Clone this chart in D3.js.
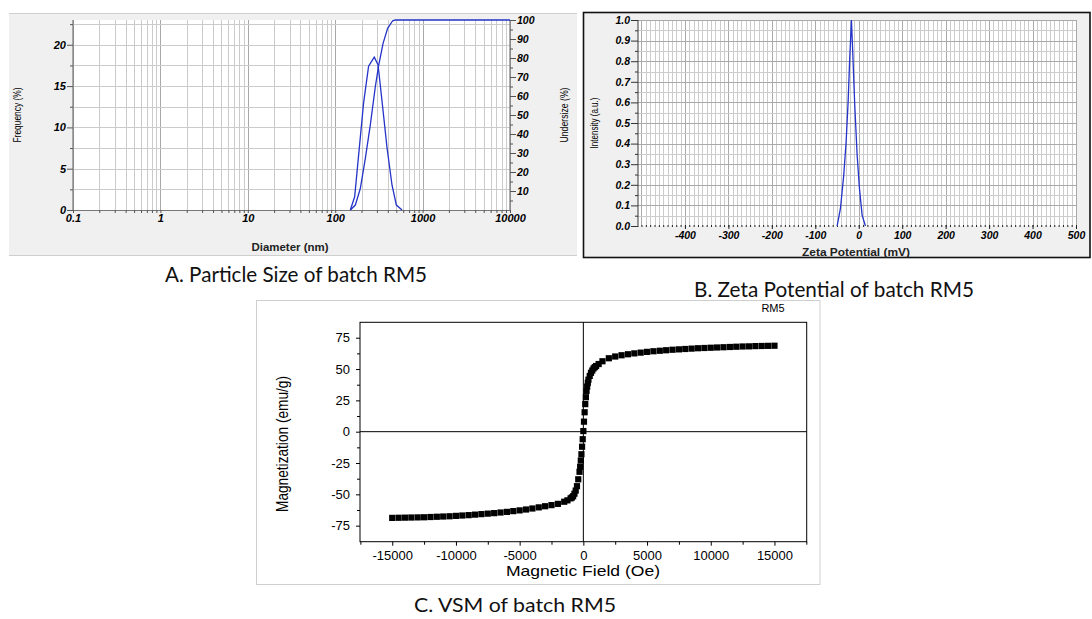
<!DOCTYPE html>
<html>
<head>
<meta charset="utf-8">
<script src="https://cdn.jsdelivr.net/npm/d3@7"></script>
<style>
  body { margin: 0; background: #fff; }
  svg { display: block; }
</style>
</head>
<body>
<svg id="fig" width="1092" height="619"></svg>
<script>
// ---- A. particle size (log diameter) ----
var sizeDiam = [149, 167, 211, 241, 280, 309, 344, 392, 447, 501, 582];
var sizeFreq = [0, 1.6, 12.9, 17.4, 18.5, 17.6, 13.1, 7.5, 3.0, 0.6, 0];
var underDiam = [149, 170, 194, 221, 252, 288, 314, 353, 398, 455, 488, 10000];
var underPct = [0, 2.6, 11.4, 27, 44.7, 65, 76, 87.7, 95.6, 99.6, 100, 100];
var sizeTicks = [0.1, 1, 10, 100, 1000, 10000];
var freqTicks = [0, 5, 10, 15, 20];
var underTicks = [10, 20, 30, 40, 50, 60, 70, 80, 90, 100];

// ---- B. zeta potential ----
var zetaMv = [-49.7, -42.1, -34.5, -29.0, -24.4, -20.7, -16.8, -13.8, -9.2, -3.7, 1.6, 7.8, 15.4];
var zetaInt = [0, 0.085, 0.247, 0.41, 0.605, 0.816, 1.0, 0.845, 0.587, 0.345, 0.183, 0.053, 0];
var zetaTicks = [-400, -300, -200, -100, 0, 100, 200, 300, 400, 500];
var intTicks = [0, 0.1, 0.2, 0.3, 0.4, 0.5, 0.6, 0.7, 0.8, 0.9, 1.0];

// ---- C. VSM ----
var vsmField = [-15000, -14500, -14000, -13500, -13000, -12500, -12000, -11500, -11000, -10500,
  -10000, -9500, -9000, -8500, -8000, -7500, -7000, -6500, -6000, -5500, -5000, -4500, -4000,
  -3500, -3000, -2500, -2000, -1500, -1250, -1000, -900, -800, -700, -600, -500, -400, -300,
  -250, -200, -150, -100, -50, 0, 50, 100, 150, 200, 250, 300, 350, 400, 500, 600, 700, 800,
  900, 1000, 1200, 1500, 2000, 2500, 3000, 3500, 4000, 4500, 5000, 5500, 6000, 6500, 7000,
  7500, 8000, 8500, 9000, 9500, 10000, 10500, 11000, 11500, 12000, 12500, 13000, 13500, 14000,
  14500, 15000];
var vsmMag = [-68.8, -68.7, -68.6, -68.5, -68.4, -68.3, -68.1, -67.9, -67.7, -67.5,
  -67.2, -66.9, -66.6, -66.2, -65.8, -65.4, -65.0, -64.5, -64.0, -63.4, -62.8, -62.1, -61.3,
  -60.4, -59.5, -58.6, -57.6, -55.9, -54.8, -53.2, -52.5, -51.5, -49.5, -47.0, -43.5, -38.0, -32.0,
  -28.0, -23.0, -18.0, -12.0, -6.0, 0.5, 8.0, 15.5, 22.0, 27.5, 32.5, 36.0, 39.0, 41.5, 44.5, 47.0, 48.8, 50.5,
  51.5, 52.4, 54.0, 56.2, 58.6, 60.0, 61.0, 61.8, 62.5, 63.1, 63.7, 64.2, 64.6, 65.0, 65.4,
  65.7, 66.0, 66.3, 66.6, 66.8, 67.0, 67.2, 67.4, 67.6, 67.8, 68.0, 68.1, 68.3, 68.4,
  68.5, 68.6];
var magTicks = [-75, -50, -25, 0, 25, 50, 75];
var fieldTicks = [-15000, -10000, -5000, 0, 5000, 10000, 15000];

var svg = d3.select("#fig");
var blue = "#2433c8";
var tickFont = "'Liberation Sans', Arial, sans-serif";

// styles an axis group: tick lines, labels, removes the domain path
function styleAxis(g, col, size, bold) {
    g.selectAll("line").attr("stroke", col);
    g.selectAll("path.domain").remove();
    g.selectAll("text")
        .attr("fill", "#000")
        .style("font-family", tickFont)
        .style("font-size", size + "px")
        .style("font-weight", bold ? "bold" : "normal")
        .style("font-style", bold ? "italic" : "normal");
}

/******** PANEL A ************/
var pA = svg.append("g");
pA.append("rect").attr("x", 9).attr("y", 13).attr("width", 568).attr("height", 242).attr("fill", "#f0f0f0");
pA.append("line").attr("x1", 9).attr("x2", 577).attr("y1", 13.5).attr("y2", 13.5).attr("stroke", "#cfcfcf");
pA.append("line").attr("x1", 9).attr("x2", 577).attr("y1", 255.5).attr("y2", 255.5).attr("stroke", "#cfcfcf");

var ax = d3.scaleLog().domain([0.1, 10000]).range([73, 510]);
var ayL = d3.scaleLinear().domain([0, 23]).range([210, 20]);
var ayR = d3.scaleLinear().domain([0, 100]).range([210, 20]);

pA.append("rect").attr("x", ax(0.1)).attr("y", ayL(23))
    .attr("width", ax(10000) - ax(0.1)).attr("height", ayL(0) - ayL(23)).attr("fill", "#fff");

// log grid values 1..9 per decade
var logGrid = [];
[0.1, 1, 10, 100, 1000].forEach(function(d) {
    for (var k = 1; k < 10; k++) logGrid.push(+(d * k).toPrecision(3));
});
logGrid.push(10000);

pA.append("g").selectAll("line").data(logGrid).enter().append("line")
    .attr("x1", function(d) { return Math.round(ax(d)) + 0.5; })
    .attr("x2", function(d) { return Math.round(ax(d)) + 0.5; })
    .attr("y1", ayL(23)).attr("y2", ayL(0))
    .attr("stroke", function(d) { return sizeTicks.indexOf(d) >= 0 ? "#a8a8a8" : "#cbcbcb"; })
    .attr("stroke-width", 1);

pA.append("g").selectAll("line").data(d3.range(2.5, 23, 2.5)).enter().append("line")
    .attr("x1", ax(0.1)).attr("x2", ax(10000))
    .attr("y1", function(d) { return Math.round(ayL(d)) + 0.5; })
    .attr("y2", function(d) { return Math.round(ayL(d)) + 0.5; })
    .attr("stroke", "#cbcbcb");

// left axis
pA.append("line").attr("x1", 73).attr("x2", 73).attr("y1", 20).attr("y2", 211).attr("stroke", "#777").attr("stroke-width", 1.2);
pA.append("g").attr("transform", "translate(73,0)")
    .call(d3.axisLeft(ayL).tickValues(freqTicks).tickSize(6).tickPadding(1).tickFormat(String))
    .call(styleAxis, "#555", 11, true);
pA.append("g").attr("transform", "translate(73,0)")
    .call(d3.axisLeft(ayL).tickValues([2.5, 7.5, 12.5, 17.5, 22.5]).tickSize(3).tickFormat(""))
    .call(styleAxis, "#555", 9, true);

// right axis
pA.append("line").attr("x1", 510).attr("x2", 510).attr("y1", 20).attr("y2", 211).attr("stroke", "#777").attr("stroke-width", 1.2);
pA.append("g").attr("transform", "translate(510,0)")
    .call(d3.axisRight(ayR).tickValues(underTicks).tickSize(6).tickPadding(1).tickFormat(String))
    .call(styleAxis, "#555", 10.5, true);
pA.append("g").attr("transform", "translate(510,0)")
    .call(d3.axisRight(ayR).tickValues(d3.range(5, 100, 10)).tickSize(3).tickFormat(""))
    .call(styleAxis, "#555", 9, true);

// bottom axis
pA.append("line").attr("x1", 73).attr("x2", 510).attr("y1", 210.5).attr("y2", 210.5).attr("stroke", "#777");
pA.append("g").attr("transform", "translate(0,210)")
    .call(d3.axisBottom(ax).tickValues(logGrid).tickSize(3).tickFormat(""))
    .call(styleAxis, "#555", 9, true);
pA.append("g").attr("transform", "translate(0,210)")
    .call(d3.axisBottom(ax).tickValues(sizeTicks).tickSize(0).tickPadding(4).tickFormat(String))
    .call(styleAxis, "#555", 11, true);

var lineA = d3.line();
pA.append("path")
    .attr("d", lineA(sizeDiam.map(function(d, i) { return [ax(d), ayL(sizeFreq[i])]; })))
    .attr("fill", "none").attr("stroke", blue).attr("stroke-width", 1.3);
pA.append("path")
    .attr("d", lineA(underDiam.map(function(d, i) { return [ax(d), ayR(underPct[i])]; })))
    .attr("fill", "none").attr("stroke", blue).attr("stroke-width", 1.3);

pA.append("text").attr("transform", "translate(21,115) rotate(-90)").attr("text-anchor", "middle")
    .style("font-family", tickFont).style("font-size", "10px").attr("textLength", 55).attr("lengthAdjust", "spacingAndGlyphs")
    .text("Frequency (%)");
pA.append("text").attr("transform", "translate(568,115) rotate(-90)").attr("text-anchor", "middle")
    .style("font-family", tickFont).style("font-size", "10px").attr("textLength", 55).attr("lengthAdjust", "spacingAndGlyphs")
    .text("Undersize (%)");
pA.append("text").attr("x", 290).attr("y", 251).attr("text-anchor", "middle")
    .style("font-family", tickFont).style("font-size", "10.5px").style("font-weight", "bold").attr("fill", "#222")
    .attr("textLength", 77).attr("lengthAdjust", "spacingAndGlyphs")
    .text("Diameter (nm)");

/******** PANEL B ************/
var pB = svg.append("g");
pB.append("rect").attr("x", 583.5).attr("y", 12.5).attr("width", 506.5).attr("height", 245)
    .attr("fill", "#f0f0f0").attr("stroke", "#111").attr("stroke-width", 1.6);

var bx = d3.scaleLinear().domain([-508, 500]).range([638, 1076]);
var by = d3.scaleLinear().domain([0, 1]).range([226, 20]);

pB.append("rect").attr("x", bx(-508)).attr("y", by(1))
    .attr("width", bx(500) - bx(-508)).attr("height", by(0) - by(1)).attr("fill", "#fff");

pB.append("g").selectAll("line").data(d3.range(-500, 501, 10)).enter().append("line")
    .attr("x1", function(d) { return Math.round(bx(d)) + 0.5; })
    .attr("x2", function(d) { return Math.round(bx(d)) + 0.5; })
    .attr("y1", by(1)).attr("y2", by(0))
    .attr("stroke", function(d) { return d % 100 === 0 ? "#a9a9a9" : "#cccccc"; });
pB.append("g").selectAll("line").data(d3.range(1, 21)).enter().append("line")
    .attr("x1", bx(-508)).attr("x2", bx(500))
    .attr("y1", function(d) { return Math.round(by(d * 0.05)) + 0.5; })
    .attr("y2", function(d) { return Math.round(by(d * 0.05)) + 0.5; })
    .attr("stroke", function(d) { return d % 2 === 0 ? "#a9a9a9" : "#cccccc"; });

pB.append("line").attr("x1", 638).attr("x2", 638).attr("y1", 20).attr("y2", 227).attr("stroke", "#555").attr("stroke-width", 1.2);
pB.append("g").attr("transform", "translate(638,0)")
    .call(d3.axisLeft(by).tickValues(intTicks).tickSize(7).tickPadding(1).tickFormat(d3.format(".1f")))
    .call(styleAxis, "#333", 10.5, true);
pB.append("g").attr("transform", "translate(638,0)")
    .call(d3.axisLeft(by).tickValues(d3.range(0.05, 1, 0.1)).tickSize(3).tickFormat(""))
    .call(styleAxis, "#333", 9, true);

// dotted looking base line: a tick every 10 mV
pB.append("g").attr("transform", "translate(0,225)")
    .call(d3.axisBottom(bx).tickValues(d3.range(-500, 501, 10)).tickSize(2).tickFormat(""))
    .call(styleAxis, "#222", 9, true);
pB.append("g").attr("transform", "translate(0,225)")
    .call(d3.axisBottom(bx).tickValues(zetaTicks).tickSize(4).tickPadding(3).tickFormat(String))
    .call(styleAxis, "#222", 10.5, true);

pB.append("path")
    .attr("d", d3.line()(zetaMv.map(function(d, i) { return [bx(d), by(zetaInt[i])]; })))
    .attr("fill", "none").attr("stroke", blue).attr("stroke-width", 1.3);

pB.append("text").attr("transform", "translate(598,123) rotate(-90)").attr("text-anchor", "middle")
    .style("font-family", tickFont).style("font-size", "10px").attr("textLength", 51).attr("lengthAdjust", "spacingAndGlyphs")
    .text("Intensity (a.u.)");
pB.append("text").attr("x", 856).attr("y", 256).attr("text-anchor", "middle")
    .style("font-family", tickFont).style("font-size", "10.5px").style("font-weight", "bold").attr("fill", "#222")
    .attr("textLength", 108).attr("lengthAdjust", "spacingAndGlyphs")
    .text("Zeta Potential (mV)");

/******** PANEL C ************/
var pC = svg.append("g");
pC.append("rect").attr("x", 256.5).attr("y", 300.5).attr("width", 563.5).attr("height", 284)
    .attr("fill", "#fff").attr("stroke", "#cfcfcf");

var cx = d3.scaleLinear().domain([-17530, 17530]).range([360, 806.7]);
var cy = d3.scaleLinear().domain([-87.8, 87.3]).range([541.7, 322.3]);

pC.append("g").attr("transform", "translate(360,0)")
    .call(d3.axisLeft(cy).tickValues(magTicks).tickSize(4).tickPadding(6).tickFormat(String))
    .call(styleAxis, "#000", 13, false);
pC.append("g").attr("transform", "translate(360,0)")
    .call(d3.axisLeft(cy).tickValues([-62.5, -37.5, -12.5, 12.5, 37.5, 62.5]).tickSize(3).tickFormat(""))
    .call(styleAxis, "#000", 13, false);
pC.append("g").attr("transform", "translate(0,541.7)")
    .call(d3.axisBottom(cx).tickValues(fieldTicks).tickSize(4).tickPadding(5).tickFormat(String))
    .call(styleAxis, "#000", 13, false);
pC.append("g").attr("transform", "translate(0,541.7)")
    .call(d3.axisBottom(cx).tickValues([-17500, -12500, -7500, -2500, 2500, 7500, 12500, 17500]).tickSize(3).tickFormat(""))
    .call(styleAxis, "#000", 13, false);

pC.append("rect").attr("x", cx.range()[0]).attr("y", cy.range()[1])
    .attr("width", cx.range()[1] - cx.range()[0]).attr("height", cy.range()[0] - cy.range()[1])
    .attr("fill", "none").attr("stroke", "#000").attr("stroke-width", 1);
pC.append("line").attr("x1", cx(0)).attr("x2", cx(0)).attr("y1", cy.range()[1]).attr("y2", cy.range()[0]).attr("stroke", "#000");
pC.append("line").attr("x1", cx.range()[0]).attr("x2", cx.range()[1]).attr("y1", cy(0)).attr("y2", cy(0)).attr("stroke", "#000");

var sq = 6.2;
pC.append("g").selectAll("rect").data(vsmField).enter().append("rect")
    .attr("x", function(d) { return cx(d) - sq / 2; })
    .attr("y", function(d, i) { return cy(vsmMag[i]) - sq / 2; })
    .attr("width", sq).attr("height", sq).attr("fill", "#000");

pC.append("text").attr("x", 773).attr("y", 312).attr("text-anchor", "middle")
    .style("font-family", tickFont).style("font-size", "11px").text("RM5");
pC.append("text").attr("x", 583).attr("y", 576).attr("text-anchor", "middle")
    .style("font-family", tickFont).style("font-size", "15px").attr("textLength", 154).attr("lengthAdjust", "spacingAndGlyphs")
    .text("Magnetic Field (Oe)");
pC.append("text").attr("transform", "translate(288,444) rotate(-90)").attr("text-anchor", "middle")
    .style("font-family", tickFont).style("font-size", "16px").attr("textLength", 136).attr("lengthAdjust", "spacingAndGlyphs")
    .text("Magnetization (emu/g)");

/******** CAPTIONS ************/
var capFont = "Lato, 'Open Sans', sans-serif";
function caption(txt, x, y, w, size) {
    svg.append("text").attr("x", x).attr("y", y)
        .style("font-family", capFont).style("font-size", size + "px").attr("fill", "#111")
        .attr("textLength", w).attr("lengthAdjust", "spacingAndGlyphs")
        .text(txt);
}
caption("A. Particle Size of batch RM5", 165, 282, 262, 22);
caption("B. Zeta Potential of batch RM5", 694, 297, 280, 22);
caption("C. VSM of batch RM5", 414, 612, 202, 20);
</script>
</body>
</html>
